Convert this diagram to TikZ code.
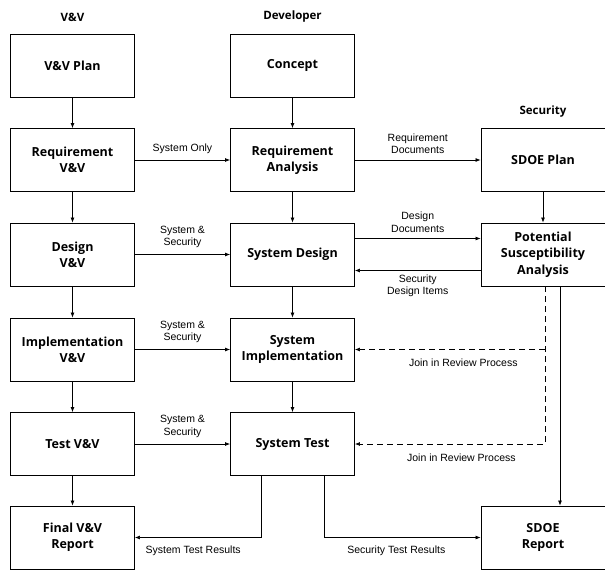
\documentclass[tikz,border=0pt]{standalone}
\usepackage{fontspec}
\setmainfont{Liberation Sans}
\newfontfamily\boxfont{Open Sans}
\usetikzlibrary{arrows.meta}
\begin{document}
\begin{tikzpicture}[x=1pt,y=-1pt,
  box/.style={draw, line width=0.9pt, minimum width=124pt, minimum height=63pt, align=center,
    font=\boxfont\bfseries\fontsize{12.5}{16.3}\selectfont, inner sep=0pt},
  lbl/.style={font=\fontsize{10.5}{12.5}\selectfont, align=center, inner sep=0pt},
  hdr/.style={font=\boxfont\bfseries\fontsize{11.5}{14}\selectfont, inner sep=0pt},
  arr/.style={line width=0.7pt, -{Latex[length=5pt,width=4pt]}},
  dsh/.style={dash pattern=on 6pt off 4pt}
]
\useasboundingbox (0,0) rectangle (605,570);
% headers
\node[hdr] (h1) at (72.5,17) {V\&V};
\node[hdr] (h2) at (292.5,17) {Developer};
\node[hdr] (h3) at (543,112) {Security};
% V&V column
\node[box] (vvp) at (72.5,65.5) {V\&V Plan};
\node[box] (rvv) at (72.5,160) {Requirement\\V\&V};
\node[box] (dvv) at (72.5,254.5) {Design\\V\&V};
\node[box] (ivv) at (72.5,349.5) {Implementation\\V\&V};
\node[box] (tvv) at (72.5,444) {Test V\&V};
\node[box] (fvv) at (72.5,537.5) {Final V\&V\\Report};
% Developer column
\node[box] (con) at (292.5,65.5) {Concept};
\node[box] (ra) at (292.5,160) {Requirement\\Analysis};
\node[box] (sd) at (292.5,254.5) {System Design};
\node[box] (si) at (292.5,349.5) {System\\Implementation};
\node[box] (st) at (292.5,444) {System Test};
% Security column
\node[box] (sp) at (543,160) {SDOE Plan};
\node[box] (psa) at (543,254.5) {Potential\\Susceptibility\\Analysis};
\node[box] (sr) at (543,537.5) {SDOE\\Report};
% vertical flows
\draw[arr] (vvp) -- (rvv);
\draw[arr] (rvv) -- (dvv);
\draw[arr] (dvv) -- (ivv);
\draw[arr] (ivv) -- (tvv);
\draw[arr] (tvv) -- (fvv);
\draw[arr] (con) -- (ra);
\draw[arr] (ra) -- (sd);
\draw[arr] (sd) -- (si);
\draw[arr] (si) -- (st);
\draw[arr] (sp) -- (psa);
\draw[arr] ([xshift=17pt]psa.south) -- ([xshift=17pt]sr.north);
% horizontal flows
\draw[arr] (rvv) -- node[lbl, above=6pt] {System Only} (ra);
\draw[arr] (dvv) -- node[lbl, above=6pt] {System \&\\Security} (sd);
\draw[arr] (ivv) -- node[lbl, above=6pt] {System \&\\Security} (si);
\draw[arr] (tvv) -- node[lbl, above=6pt] {System \&\\Security} (st);
\draw[arr] (ra) -- node[lbl, above=6pt] {Requirement\\Documents} (sp);
\draw[arr] ([yshift=16pt]sd.east) -- node[lbl, above=6pt] {Design\\Documents} ([yshift=16pt]psa.west);
\draw[arr] ([yshift=-16pt]psa.west) -- node[lbl, below=4pt] {Security\\Design Items} ([yshift=-16pt]sd.east);
% dashed review links
\coordinate (dj) at ([xshift=2pt]psa.south |- si.east);
\draw[arr, dsh] ([xshift=2pt]psa.south) |- node[lbl, pos=0.72, below=10pt] {Join in Review Process} (st.east);
\draw[arr, dsh] (dj) -- node[lbl, pos=0.43, below=9pt] {Join in Review Process} (si.east);
% test results
\draw[arr] ([xshift=-31pt]st.south) |- node[lbl, pos=0.77, below=8pt] {System Test Results} (fvv.east);
\draw[arr] ([xshift=32pt]st.south) |- node[lbl, pos=0.73, below=8pt] {Security Test Results} (sr.west);
\end{tikzpicture}
\end{document}
